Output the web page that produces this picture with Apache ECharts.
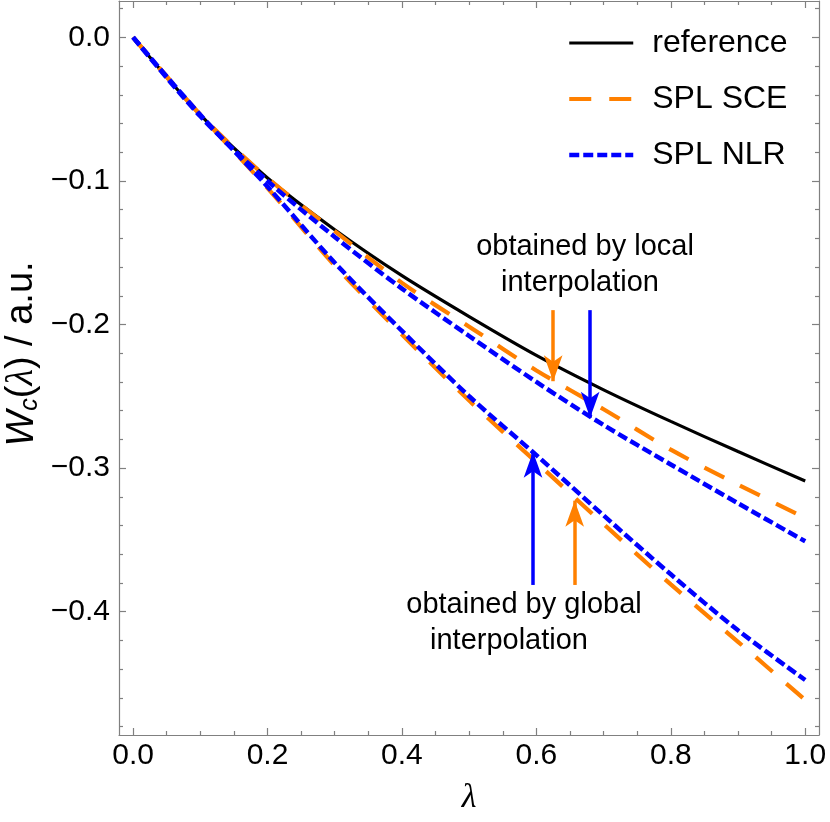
<!DOCTYPE html>
<html>
<head>
<meta charset="utf-8">
<script src="https://cdn.jsdelivr.net/npm/echarts@6/dist/echarts.min.js"></script>
<style>
  html, body { margin: 0; padding: 0; background: #fff; }
  #chart { width: 830px; height: 822px; }
</style>
</head>
<body>
<div id="chart"></div>
<script>
// lambda grid
const lambda = [0, 0.1, 0.2, 0.3, 0.4, 0.5, 0.6, 0.7, 0.8, 0.9, 1.0];

// W_c(lambda) values
const reference = [0, -0.054, -0.098, -0.134, -0.166, -0.1945, -0.2215, -0.2455, -0.2675, -0.2885, -0.309];
const sceLocal  = [0, -0.054, -0.098, -0.135, -0.171, -0.2015, -0.232, -0.259, -0.2872, -0.3115, -0.3347];
const nlrLocal  = [0, -0.055, -0.100, -0.139, -0.175, -0.208, -0.240, -0.270, -0.2975, -0.3245, -0.351];
const sceGlobal = [0, -0.054, -0.105, -0.159, -0.207, -0.253, -0.296, -0.339, -0.381, -0.421, -0.4615];
const nlrGlobal = [0, -0.054, -0.104, -0.157, -0.2045, -0.250, -0.291, -0.333, -0.374, -0.413, -0.4476];

// tick labels
const xTicks = [0, 0.2, 0.4, 0.6, 0.8, 1.0];
const xMinor = [0.05, 0.1, 0.15, 0.25, 0.3, 0.35, 0.45, 0.5, 0.55, 0.65, 0.7, 0.75, 0.85, 0.9, 0.95];
const yTicks = [0, -0.1, -0.2, -0.3, -0.4];
const yMinor = [0.02, -0.02, -0.04, -0.06, -0.08, -0.12, -0.14, -0.16, -0.18, -0.22, -0.24, -0.26, -0.28,
                -0.32, -0.34, -0.36, -0.38, -0.42, -0.44, -0.46, -0.48];

// arrows: x position, tail value, tip value
const arrowX    = [0.625, 0.680, 0.595, 0.657];
const arrowFrom = [-0.190, -0.190, -0.3814, -0.3814];
const arrowTo   = [-0.2395, -0.265, -0.2886, -0.3227];
const arrowColor = ['#ff8000', '#0000ff', '#0000ff', '#ff8000'];

const ORANGE = '#ff8000';
const BLUE = '#0000ff';
const FRAME = '#808080';
const FONT = 'Liberation Sans, Arial, sans-serif';

const xMin = -0.021, xMax = 1.0205;
const yMin = -0.4859, yMax = 0.0253;

const pairs = (ys) => lambda.map((x, i) => [x, ys[i]]);

const fmt = (v) => (Math.abs(v) < 1e-9 ? '0.0' : (v < 0 ? '\u2212' : '') + Math.abs(v).toFixed(1));

function xAxisDef(position, values, len, labels, line) {
  return {
    type: 'value', position: position, min: xMin, max: xMax, gridIndex: 0,
    axisLine: { show: line, onZero: false, lineStyle: { color: FRAME, width: 1.2 } },
    axisTick: { show: true, inside: true, length: len, customValues: values, lineStyle: { color: FRAME, width: 1.2 } },
    axisLabel: labels ? { show: true, customValues: values, formatter: fmt, color: '#000', fontSize: 30, fontFamily: FONT, margin: 6 }
                      : { show: false },
    splitLine: { show: false }
  };
}
function yAxisDef(position, values, len, labels, line) {
  return {
    type: 'value', position: position, min: yMin, max: yMax, gridIndex: 0,
    axisLine: { show: line, onZero: false, lineStyle: { color: FRAME, width: 1.2 } },
    axisTick: { show: true, inside: true, length: len, customValues: values, lineStyle: { color: FRAME, width: 1.2 } },
    axisLabel: labels ? { show: true, customValues: values, formatter: fmt, color: '#000', fontSize: 30, fontFamily: FONT, margin: 9 }
                      : { show: false },
    splitLine: { show: false }
  };
}

const arrowLines = arrowX.map((x, i) => [
  { coord: [x, arrowFrom[i]], lineStyle: { color: arrowColor[i] }, itemStyle: { color: arrowColor[i] } },
  { coord: [x, arrowTo[i]], lineStyle: { color: arrowColor[i] }, itemStyle: { color: arrowColor[i] } }
]);

const chart = echarts.init(document.getElementById('chart'));

const option = {
  animation: false,
  backgroundColor: '#fff',
  grid: { left: 119, right: 11, top: 1, bottom: 87, containLabel: false, outerBoundsMode: 'none' },
  xAxis: [
    xAxisDef('bottom', xTicks, 7, true, true),
    xAxisDef('bottom', xMinor, 4, false, false),
    xAxisDef('top', xTicks, 7, false, true),
    xAxisDef('top', xMinor, 4, false, false)
  ],
  yAxis: [
    yAxisDef('left', yTicks, 7, true, true),
    yAxisDef('left', yMinor, 4, false, false),
    yAxisDef('right', yTicks, 7, false, true),
    yAxisDef('right', yMinor, 4, false, false)
  ],
  legend: {
    orient: 'vertical',
    left: 567, top: 27,
    padding: 0,
    itemWidth: 64, itemHeight: 32, itemGap: 24,
    selectedMode: false,
    itemStyle: { opacity: 0 },
    lineStyle: { width: 'inherit' },
    data: ['reference', 'SPL SCE', 'SPL NLR'],
    textStyle: { fontSize: 32, fontFamily: FONT, color: '#000', padding: [0, 0, 0, 14] }
  },
  series: [
    {
      name: 'reference', type: 'line', data: pairs(reference), smooth: 0.3, symbol: 'none',
      lineStyle: { color: '#000', width: 3.2 }, itemStyle: { color: '#000' }, z: 2
    },
    {
      name: 'SPL SCE', type: 'line', data: pairs(sceLocal), smooth: 0.3, symbol: 'none',
      lineStyle: { color: ORANGE, width: 4.2, type: [22, 18] }, itemStyle: { color: ORANGE }, z: 3
    },
    {
      name: 'SPL SCE', type: 'line', data: pairs(sceGlobal), smooth: 0.3, symbol: 'none',
      lineStyle: { color: ORANGE, width: 4.2, type: [22, 18] }, itemStyle: { color: ORANGE }, z: 3
    },
    {
      name: 'SPL NLR', type: 'line', data: pairs(nlrLocal), smooth: 0.3, symbol: 'none',
      lineStyle: { color: BLUE, width: 4.5, type: [10, 4] }, itemStyle: { color: BLUE }, z: 4
    },
    {
      name: 'SPL NLR', type: 'line', data: pairs(nlrGlobal), smooth: 0.3, symbol: 'none',
      lineStyle: { color: BLUE, width: 4.5, type: [10, 4] }, itemStyle: { color: BLUE }, z: 4,
      markLine: {
        silent: true,
        symbol: ['none', 'arrow'],
        symbolSize: [14, 26],
        label: { show: false },
        lineStyle: { type: 'solid', width: 3.5 },
        data: arrowLines
      }
    }
  ],
  graphic: [
    { type: 'text', x: 585, y: 247, style: { text: 'obtained by local', font: '29px ' + FONT, fill: '#000', align: 'center', verticalAlign: 'middle' } },
    { type: 'text', x: 580, y: 283, style: { text: 'interpolation', font: '29px ' + FONT, fill: '#000', align: 'center', verticalAlign: 'middle' } },
    { type: 'text', x: 524, y: 605, style: { text: 'obtained by global', font: '29px ' + FONT, fill: '#000', align: 'center', verticalAlign: 'middle' } },
    { type: 'text', x: 509, y: 641, style: { text: 'interpolation', font: '29px ' + FONT, fill: '#000', align: 'center', verticalAlign: 'middle' } },
    { type: 'text', x: 469, y: 798, style: { text: '\u03bb', font: 'italic 34px Liberation Serif, serif', fill: '#000', align: 'center', verticalAlign: 'middle' } },
    {
      type: 'text', x: 22, y: 354, rotation: Math.PI / 2,
      style: {
        text: '{w|W}{c|c}{n|(}{l|\u03bb}{n|) / a.u.}',
        align: 'center', verticalAlign: 'middle',
        rich: {
          w: { fontSize: 38, fontStyle: 'italic', fontFamily: FONT, fill: '#000' },
          c: { fontSize: 25, fontStyle: 'italic', fontFamily: FONT, fill: '#000', padding: [16, 0, 0, 0] },
          n: { fontSize: 38, fontFamily: FONT, fill: '#000' },
          l: { fontSize: 38, fontStyle: 'italic', fontFamily: 'Liberation Serif, serif', fill: '#000' }
        }
      }
    }
  ]
};

chart.setOption(option);
</script>
</body>
</html>
